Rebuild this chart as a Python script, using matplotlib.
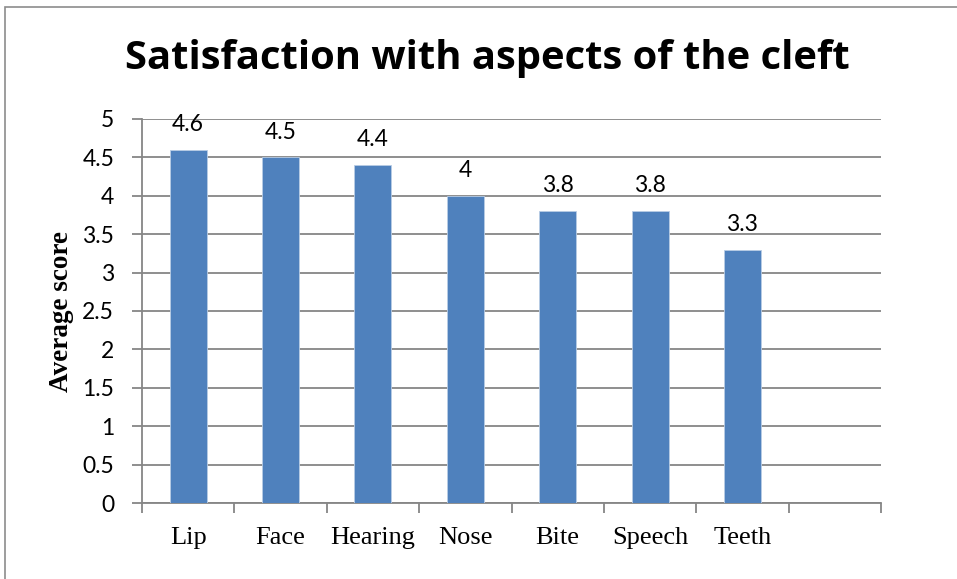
import matplotlib
matplotlib.use("Agg")
import matplotlib.pyplot as plt
from matplotlib.patches import Rectangle
import numpy as np

categories = ["Lip", "Face", "Hearing", "Nose", "Bite", "Speech", "Teeth", ""]
values = [4.6, 4.5, 4.4, 4.0, 3.8, 3.8, 3.3, None]
value_labels = ["4.6", "4.5", "4.4", "4", "3.8", "3.8", "3.3", ""]
yticks = [0, 0.5, 1, 1.5, 2, 2.5, 3, 3.5, 4, 4.5, 5]
ytick_labels = ["0", "0.5", "1", "1.5", "2", "2.5", "3", "3.5", "4", "4.5", "5"]

W, H = 957, 579
fig = plt.figure(figsize=(W / 100, H / 100), dpi=100)
fig.patch.set_facecolor("white")

# outer frame of the chart area
fig.add_artist(Rectangle((5 / W, -0.1), 1.2, (H - 7) / H + 0.1, transform=fig.transFigure,
                         fill=False, edgecolor="#8c8c8c", linewidth=1.2))

ax = fig.add_axes([142 / W, (H - 503) / H, (881 - 142) / W, (503 - 119) / H])

grid_c = "#868686"
x = np.arange(len(categories))
plot_vals = [v for v in values if v is not None]
ax.bar(x[:len(plot_vals)], plot_vals, width=0.4, color="#4F81BD",
       edgecolor="#b9cde5", linewidth=0.6, zorder=3)

for xi, v, lab in zip(x, values, value_labels):
    if v is None:
        continue
    ax.annotate(lab, (xi, v), xytext=(0, 13.5), textcoords="offset points",
                ha="center", va="baseline", fontsize=16.5, family="Lato", zorder=4)

ax.set_xlim(-0.5, len(categories) - 0.5)
ax.set_ylim(0, 5)
ax.set_yticks(yticks)
ax.set_yticklabels(ytick_labels, fontsize=16.5, family="Lato")
ax.yaxis.grid(True, color=grid_c, linewidth=1.3, zorder=0)
ax.set_axisbelow(True)

ax.set_xticks(x)
ax.set_xticklabels(categories, fontsize=19, family="Liberation Serif")
ax.set_xticks(np.arange(len(categories) + 1) - 0.5, minor=True)
ax.tick_params(axis="x", which="major", length=0, pad=17)
ax.tick_params(axis="x", which="minor", length=7, width=1.3, color=grid_c, direction="out")
ax.tick_params(axis="y", length=7, width=1.3, color=grid_c, direction="out", pad=13)

for s in ["top", "right"]:
    ax.spines[s].set_visible(False)
for s in ["left", "bottom"]:
    ax.spines[s].set_color(grid_c)
    ax.spines[s].set_linewidth(1.3)

ax.set_ylabel("Average score", fontsize=19.5, family="Liberation Serif",
              fontweight="bold", labelpad=6)

fig.text(487 / W, 1 - 58 / H, "Satisfaction with aspects of the cleft",
         ha="center", va="center", fontsize=28.8, fontweight="bold", family="Open Sans")

fig.savefig("out.png", dpi=100)
